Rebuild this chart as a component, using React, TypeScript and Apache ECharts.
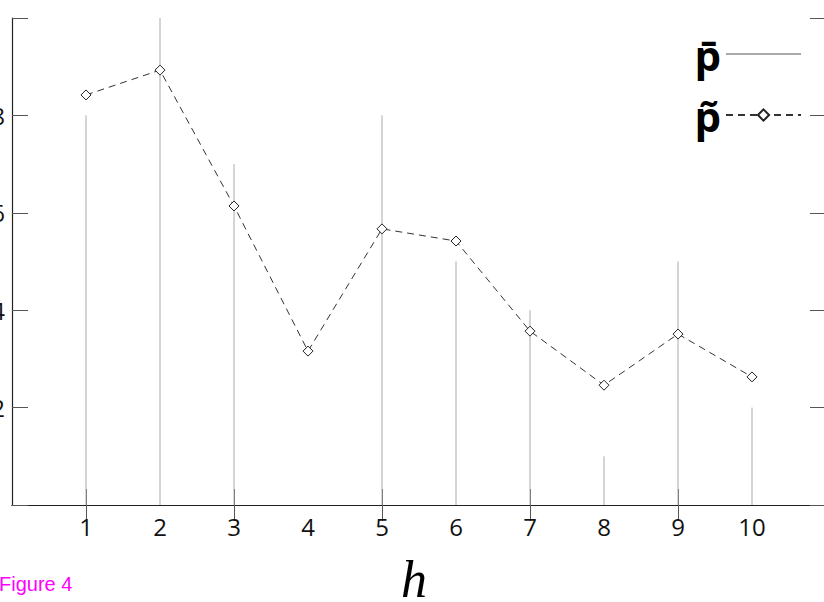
import React, { useEffect, useRef } from "react";
import * as echarts from "echarts";

// horizon h
const hValues = [1, 2, 3, 4, 5, 6, 7, 8, 9, 10];
// p-bar (vertical stems)
const pBar = [8, 10, 7, 0, 8, 5, 4, 1, 5, 2];
// p-tilde (dashed line with diamonds)
const pTilde = [8.42, 8.93, 6.14, 3.16, 5.67, 5.42, 3.57, 2.46, 3.51, 2.63];
// axis categories (padding at 0 and 11)
const axisCats = ["0", ...hValues.map(String), "11"];
const yTicks = [2, 4, 6, 8];

const P_BAR = "p\u0304";
const P_TILDE = "p\u0303";

export default function App() {
  const ref = useRef<HTMLDivElement>(null);
  useEffect(() => {
    if (!ref.current) return;
    const chart = echarts.init(ref.current, null, { renderer: "svg" });

    const stemData: any[] = [];
    hValues.forEach((h, i) => {
      stemData.push([h, 0]);
      stemData.push([h, pBar[i]]);
      stemData.push([h, "-"]);
    });

    const tickCfg = {
      show: true,
      inside: true,
      length: 16,
      interval: (i: number) => i % 2 === 1,
      lineStyle: { color: "#555", width: 1 },
    };

    chart.setOption({
      animation: false,
      backgroundColor: "#fff",
      grid: {
        left: 12,
        right: -2,
        top: 18,
        bottom: 97,
        containLabel: false,
        outerBoundsMode: "none",
      },
      legend: {
        orient: "vertical",
        align: "right",
        right: 22,
        top: 32,
        padding: 0,
        itemGap: 17,
        itemWidth: 75,
        itemHeight: 14,
        data: [
          {
            name: P_BAR,
            itemStyle: { color: "rgba(0,0,0,0)", borderColor: "rgba(0,0,0,0)", opacity: 0 },
          },
          { name: P_TILDE },
        ],
        textStyle: {
          fontSize: 42,
          fontWeight: "bold",
          fontFamily: "Open Sans",
          color: "#000",
          lineHeight: 44,
        },
      },
      xAxis: [
        {
          type: "category",
          data: axisCats,
          boundaryGap: false,
          position: "bottom",
          axisLine: { show: true, lineStyle: { color: "#222", width: 1.2 } },
          axisTick: tickCfg,
          axisLabel: {
            interval: (i: number) => i > 0 && i < axisCats.length - 1,
            fontSize: 24,
            fontFamily: "Open Sans",
            color: "#111",
            margin: 9,
          },
          splitLine: { show: false },
        },
        {
          type: "category",
          data: axisCats,
          boundaryGap: false,
          position: "top",
          axisLine: { show: true, lineStyle: { color: "#222", width: 1.2 } },
          axisTick: tickCfg,
          axisLabel: { show: false },
          splitLine: { show: false },
        },
      ],
      yAxis: [
        {
          type: "value",
          min: 0,
          max: 10,
          interval: 2,
          position: "left",
          axisLine: { show: true, lineStyle: { color: "#222", width: 1.2 } },
          axisTick: { show: true, inside: true, length: 16, lineStyle: { color: "#555" } },
          axisLabel: {
            fontSize: 24,
            fontFamily: "Open Sans",
            color: "#111",
            margin: 7,
            formatter: (v: number) => (yTicks.includes(v) ? String(v) : ""),
          },
          splitLine: { show: false },
        },
        {
          type: "value",
          min: 0,
          max: 10,
          interval: 2,
          position: "right",
          axisLine: { show: true, lineStyle: { color: "#222", width: 1.2 } },
          axisTick: { show: true, inside: true, length: 16, lineStyle: { color: "#555" } },
          axisLabel: { show: false },
          splitLine: { show: false },
        },
      ],
      series: [
        {
          name: P_BAR,
          type: "line",
          xAxisIndex: 0,
          yAxisIndex: 0,
          data: stemData,
          symbol: "none",
          connectNulls: false,
          lineStyle: { color: "#aaa", width: 1 },
          itemStyle: { color: "#aaa" },
          z: 1,
        },
        {
          name: P_TILDE,
          type: "line",
          xAxisIndex: 0,
          yAxisIndex: 0,
          data: hValues.map((h, i) => [h, pTilde[i]]),
          symbol: "diamond",
          symbolSize: 10,
          showAllSymbol: true,
          lineStyle: { color: "#333", width: 1, type: [7, 5] },
          itemStyle: { color: "#fff", borderColor: "#222", borderWidth: 1 },
          z: 3,
        },
      ],
      graphic: [
        {
          type: "text",
          x: 414,
          y: 579,
          style: {
            text: "h",
            font: 'italic 52px "Liberation Serif"',
            fill: "#000",
            textAlign: "center",
            textVerticalAlign: "middle",
          },
        },
        {
          type: "text",
          x: -1,
          y: 584,
          style: {
            text: "Figure 4",
            font: '20px "Liberation Sans"',
            fill: "#ff00ff",
            textAlign: "left",
            textVerticalAlign: "middle",
          },
        },
      ],
    });
    return () => chart.dispose();
  }, []);
  return (
    <div
      ref={ref}
      style={{ position: "absolute", left: 0, top: 0, width: 824, height: 602 }}
    />
  );
}
